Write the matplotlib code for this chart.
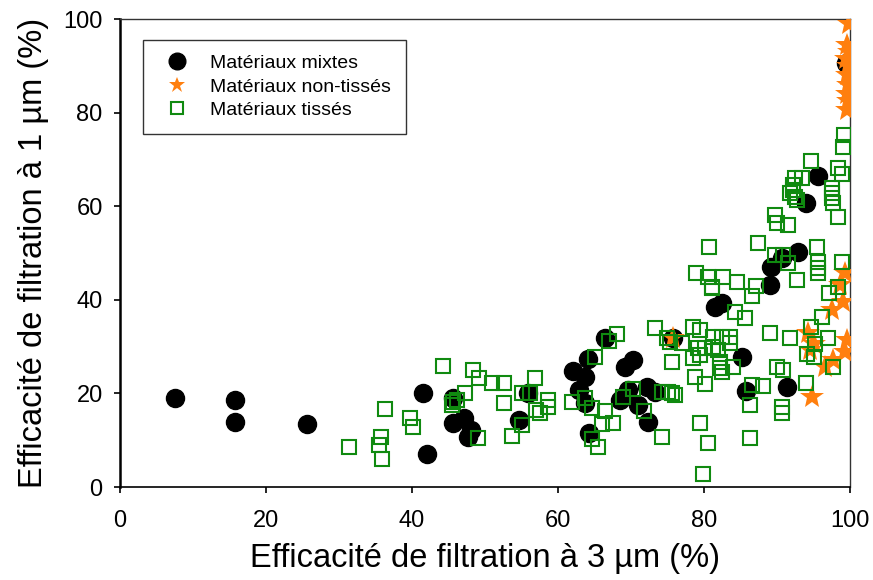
import matplotlib
matplotlib.use("Agg")
import matplotlib.pyplot as plt

plt.rcParams["font.family"] = ["Liberation Sans", "DejaVu Sans"]

# Matériaux mixtes (x = efficacité à 3 µm, y = efficacité à 1 µm)
mixtes_x = [7.5, 15.8, 15.8, 25.6, 41.5, 42.0, 45.6, 45.6, 47.1, 48.1, 47.7,
            54.7, 55.9, 62.1, 63.7, 64.1, 66.4, 62.9, 63.7, 64.2, 68.5, 69.6,
            69.2, 70.3, 71.0, 72.2, 73.3, 72.3, 75.8, 81.5, 82.5, 85.2, 85.8,
            89.0, 89.2, 90.7, 91.4, 92.9, 94.0, 95.6, 99.5]
mixtes_y = [19.0, 18.6, 13.9, 13.5, 20.1, 7.1, 19.0, 13.7, 14.7, 12.2, 10.7,
            14.3, 20.1, 24.8, 23.5, 27.4, 31.8, 20.7, 17.9, 11.5, 18.6, 20.7,
            25.6, 27.1, 17.5, 21.4, 20.3, 13.9, 31.8, 38.5, 39.3, 27.8, 20.5,
            43.2, 47.0, 48.9, 21.4, 50.2, 60.7, 66.5, 90.5]

# Matériaux non-tissés
nontisses_x = [99.8, 99.6, 99.8, 99.5, 99.7, 99.6, 99.7, 99.6, 99.7, 99.6,
               99.3, 98.6, 99.0, 97.5, 94.2, 99.6, 99.3, 94.5, 95.0, 97.7,
               96.6, 94.8, 75.8]
nontisses_y = [99.0, 94.5, 93.0, 91.5, 90.0, 88.0, 86.0, 84.0, 82.5, 80.5,
               45.7, 43.2, 39.5, 37.8, 32.9, 31.4, 28.8, 29.3, 30.5, 27.1,
               25.7, 19.2, 31.8]

# Matériaux tissés
tisses_x = [31.4, 36.3, 35.8, 35.5, 35.9, 39.7, 40.1, 44.2, 48.4, 49.2, 50.9,
            52.6, 47.3, 45.6, 45.5, 46.2, 49.0, 52.6, 53.7, 55.1, 56.2, 56.8,
            55.1, 57.5, 58.6, 58.6, 61.9, 63.7, 64.7, 66.4, 66.0, 67.5, 64.7,
            65.5, 65.1, 67.0, 68.1, 70.3, 68.9, 71.8, 73.3, 74.2, 75.6, 76.0,
            74.2, 74.9, 75.6, 77.0, 78.5, 79.5, 78.5, 78.8, 80.1, 79.5, 80.5,
            79.9, 81.1, 81.2, 82.5, 83.6, 79.2, 80.1, 81.2, 81.9, 83.6, 79.5,
            82.2, 82.2, 82.5, 84.0, 84.2, 85.6, 89.0, 91.8, 90.0, 90.8, 86.6,
            88.1, 86.3, 90.7, 86.3, 80.7, 87.4, 78.9, 80.5, 81.1, 82.6, 84.5,
            87.1, 86.6, 89.7, 90.0, 89.7, 99.0, 94.7, 98.4, 98.9, 92.5, 93.4,
            92.2, 92.2, 91.8, 92.5, 92.7, 97.5, 97.5, 97.5, 97.7, 98.4, 91.5,
            95.5, 90.8, 91.5, 95.6, 95.6, 95.6, 98.9, 92.7, 99.2, 97.1, 98.4,
            96.2, 94.7, 97.0, 95.2, 94.1, 95.0, 97.7, 94.0, 90.7, 75.1, 75.3,
            57.0]
tisses_y = [8.5, 16.7, 10.7, 9.0, 6.0, 14.7, 12.8, 25.9, 25.0, 23.3, 22.2,
            22.2, 20.1, 18.2, 17.5, 18.6, 10.5, 18.0, 10.9, 20.1, 20.1, 23.3,
            13.2, 15.8, 18.6, 17.1, 18.2, 19.0, 16.9, 16.2, 13.5, 13.7, 10.3,
            8.5, 27.8, 31.2, 32.7, 20.9, 19.2, 16.2, 34.0, 20.3, 20.1, 19.7,
            10.7, 31.8, 26.7, 30.8, 34.2, 33.5, 27.6, 23.5, 22.0, 13.7, 9.4,
            2.8, 42.5, 32.1, 32.1, 32.1, 29.7, 29.7, 29.9, 29.3, 30.8, 28.2,
            26.7, 25.4, 24.6, 25.6, 37.4, 36.1, 32.9, 31.8, 25.6, 25.0, 21.8,
            21.6, 17.5, 17.1, 10.5, 51.3, 52.1, 45.7, 44.9, 42.7, 44.9, 43.8,
            42.9, 40.8, 58.1, 56.4, 49.6, 72.6, 69.7, 68.2, 66.9, 66.0, 66.0,
            64.5, 63.5, 62.8, 62.0, 61.3, 63.9, 62.8, 61.7, 60.7, 57.7, 56.0,
            51.3, 49.6, 47.9, 48.1, 46.8, 45.7, 48.1, 44.2, 75.2, 41.5, 42.7,
            36.3, 34.2, 31.8, 30.6, 28.4, 27.8, 25.6, 22.2, 15.8, 20.3, 31.0,
            16.5]

fig = plt.figure(figsize=(8.73, 5.80), dpi=100)
ax = fig.add_axes([0.1375, 0.1603, 0.8362, 0.8069])

ax.plot(mixtes_x, mixtes_y, "o", color="black", markersize=13,
        linestyle="none", label="Matériaux mixtes", zorder=3)
ax.plot(nontisses_x, nontisses_y, "*", color="#ff7f0e", markersize=18,
        linestyle="none", markeredgewidth=0, label="Matériaux non-tissés", zorder=4)
ax.plot(tisses_x, tisses_y, "s", markerfacecolor="none", markeredgecolor="#108a10",
        markeredgewidth=1.5, markersize=10, linestyle="none",
        label="Matériaux tissés", zorder=5)

ax.set_xlim(0, 100)
ax.set_ylim(0, 100)
ax.set_xticks(range(0, 101, 20))
ax.set_yticks(range(0, 101, 20))
ax.tick_params(direction="out", length=4.5, width=1.2, labelsize=17, top=False, right=False)
ax.tick_params(axis="x", pad=12)
ax.tick_params(axis="y", pad=8)
ax.spines["left"].set_linewidth(1.8)
ax.spines["bottom"].set_linewidth(1.2)
ax.spines["top"].set_linewidth(1.0)
ax.spines["right"].set_linewidth(1.0)
ax.spines["top"].set_color("#333333")
ax.spines["right"].set_color("#333333")

ax.set_xlabel("Efficacité de filtration à 3 µm (%)", fontsize=23.5, labelpad=8)
ax.set_ylabel("Efficacité de filtration à 1 µm (%)", fontsize=23.5, labelpad=10)

leg = ax.legend(loc="upper left", bbox_to_anchor=(0.0315, 0.955), borderaxespad=0,
                fontsize=14, frameon=True, fancybox=False, edgecolor="black",
                handlelength=2.0, handletextpad=0.7, labelspacing=0.3, borderpad=0.75)
leg.get_frame().set_linewidth(1.0)
for h in leg.legend_handles:
    h.set_markersize(12 if h.get_marker() != "s" else 9)

fig.savefig("out.png", dpi=100)
